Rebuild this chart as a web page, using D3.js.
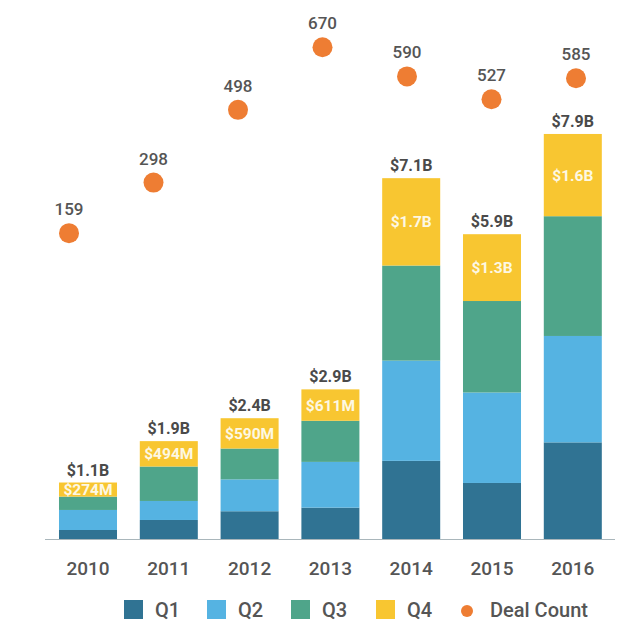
<!DOCTYPE html>
<html>
<head>
<meta charset="utf-8">
<script src="https://cdn.jsdelivr.net/npm/d3@7/dist/d3.min.js"></script>
<style>
  html, body { margin: 0; padding: 0; background: #fff; }
  svg { display: block; font-family: Roboto, "Noto Sans", sans-serif; }
</style>
</head>
<body>
<svg id="chart" width="644" height="630"></svg>
<script>
const years = ["2010", "2011", "2012", "2013", "2014", "2015", "2016"];
const q1 = [0.175, 0.37, 0.54, 0.61, 1.52, 1.09, 1.88];
const q2 = [0.39, 0.37, 0.62, 0.89, 1.95, 1.76, 2.07];
const q3 = [0.26, 0.67, 0.60, 0.80, 1.85, 1.78, 2.33];
const q4 = [0.274, 0.494, 0.590, 0.611, 1.7, 1.3, 1.6];
const q4Labels = ["$274M", "$494M", "$590M", "$611M", "$1.7B", "$1.3B", "$1.6B"];
const totalLabels = ["$1.1B", "$1.9B", "$2.4B", "$2.9B", "$7.1B", "$5.9B", "$7.9B"];
const dealCount = [159, 298, 498, 670, 590, 527, 585];
const seriesNames = ["Q1", "Q2", "Q3", "Q4"];
const colors = ["#307393", "#55b3e2", "#4fa58a", "#f8c631"];
const dotColor = "#ee7d33";

const svg = d3.select("#chart");

const table = years.map((yr, i) => ({ year: yr, Q1: q1[i], Q2: q2[i], Q3: q3[i], Q4: q4[i] }));
const stack = d3.stack().keys(seriesNames)(table);

const x = d3.scaleBand().domain(years).range([47.6, 613.2]).paddingInner(0.282).paddingOuter(0.141);
const y = d3.scaleLinear().domain([0, 10]).range([539, 25]);
const xd = d3.scalePoint().domain(years).range([69, 576]);
const yd = d3.scaleLinear().domain([0, 800]).range([291, 0]);

// bars
svg.append("g").selectAll("g").data(stack).join("g")
  .attr("fill", (d, i) => colors[i])
  .selectAll("rect").data(d => d).join("rect")
  .attr("x", d => x(d.data.year))
  .attr("width", x.bandwidth())
  .attr("y", d => y(d[1]))
  .attr("height", d => y(d[0]) - y(d[1]));

// axis line
svg.append("line")
  .attr("x1", 45).attr("x2", 615)
  .attr("y1", 539.5).attr("y2", 539.5)
  .attr("stroke", "#a9b6bb").attr("stroke-width", 1.2);

// year labels
svg.append("g").selectAll("text").data(years).join("text")
  .attr("x", d => x(d) + x.bandwidth() / 2)
  .attr("y", 575)
  .attr("text-anchor", "middle")
  .attr("font-size", 19).attr("font-weight", 500)
  .attr("fill", "#555")
  .text(d => d);

const topLayer = stack[3];
// total labels
svg.append("g").selectAll("text").data(topLayer).join("text")
  .attr("x", d => x(d.data.year) + x.bandwidth() / 2)
  .attr("y", d => y(d[1]) - 7)
  .attr("text-anchor", "middle")
  .attr("font-size", 16).attr("font-weight", 700)
  .attr("fill", "#4a4a4a")
  .text((d, i) => totalLabels[i]);

// Q4 labels
svg.append("g").selectAll("text").data(topLayer).join("text")
  .attr("x", d => x(d.data.year) + x.bandwidth() / 2)
  .attr("y", d => (y(d[0]) + y(d[1])) / 2)
  .attr("dy", "0.36em")
  .attr("text-anchor", "middle")
  .attr("font-size", 15.5).attr("font-weight", 700)
  .attr("fill", "#fdf8e4")
  .text((d, i) => q4Labels[i]);

// deal count dots
svg.append("g").selectAll("circle").data(dealCount).join("circle")
  .attr("cx", (d, i) => xd(years[i]))
  .attr("cy", d => yd(d))
  .attr("r", 10)
  .attr("fill", dotColor);

svg.append("g").selectAll("text").data(dealCount).join("text")
  .attr("x", (d, i) => xd(years[i]))
  .attr("y", d => yd(d) - 18)
  .attr("text-anchor", "middle")
  .attr("font-size", 17).attr("font-weight", 500)
  .attr("fill", "#555")
  .text(d => d);

// legend
const legendX = [124, 207, 291, 376];
const lg = svg.append("g");
seriesNames.forEach((n, i) => {
  lg.append("rect").attr("x", legendX[i]).attr("y", 600).attr("width", 19).attr("height", 19).attr("fill", colors[i]);
  lg.append("text").attr("x", legendX[i] + 31).attr("y", 617)
    .attr("font-size", 20).attr("font-weight", 500).attr("fill", "#555").text(n);
});
lg.append("circle").attr("cx", 467).attr("cy", 611).attr("r", 6).attr("fill", dotColor);
lg.append("text").attr("x", 490).attr("y", 617)
  .attr("font-size", 20).attr("font-weight", 500).attr("fill", "#555").text("Deal Count");
</script>
</body>
</html>
